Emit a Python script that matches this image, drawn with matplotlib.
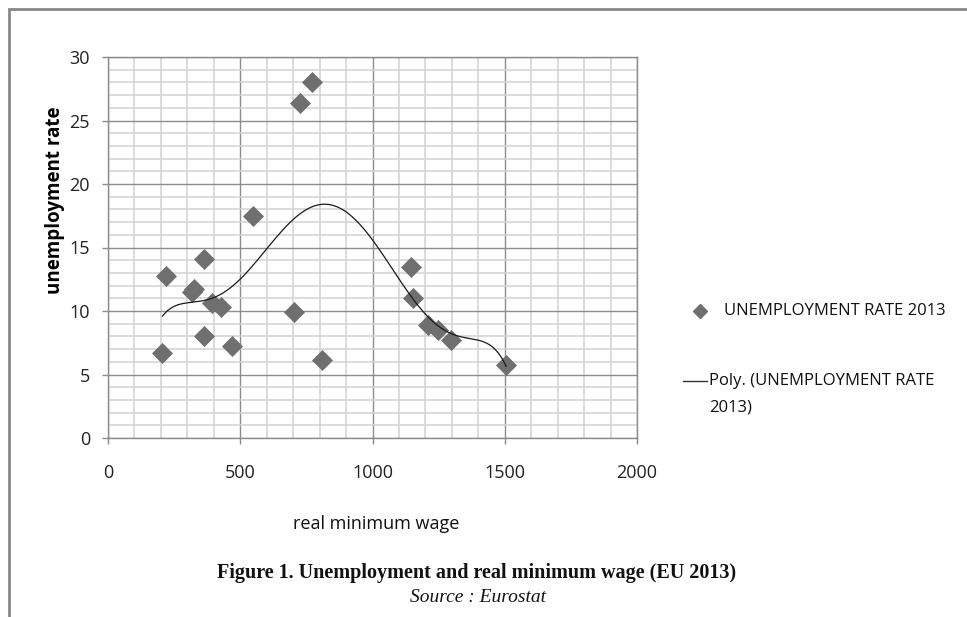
import numpy as np
import matplotlib.pyplot as plt
from matplotlib.lines import Line2D
from matplotlib.patches import Rectangle
from matplotlib.ticker import MultipleLocator

# real minimum wage (EUR) and unemployment rate (%) for EU countries, 2013
wage = [206, 219, 316, 327, 363, 363, 394, 428, 468, 549,
        705, 726, 770, 809, 1146, 1154, 1209, 1247, 1297, 1505]
rate = [6.7, 12.75, 11.5, 11.7, 14.1, 8.0, 10.65, 10.35, 7.25, 17.5,
        9.9, 26.35, 28.0, 6.15, 13.5, 11.05, 8.9, 8.5, 7.7, 5.75]

x_ticks = [0, 500, 1000, 1500, 2000]
y_ticks = [0, 5, 10, 15, 20, 25, 30]

major_col = '#8c8c8c'
minor_col = '#d2d2d2'
marker_col = '#6f6f6f'

plt.rcParams['font.family'] = ['Open Sans', 'DejaVu Sans']

W, H = 967, 617
fig = plt.figure(figsize=(W / 100, H / 100), dpi=100)
ax = fig.add_axes([108 / W, 1 - 438 / H, 529 / W, 381 / H])

ax.scatter(wage, rate, marker='D', s=115, color=marker_col, zorder=3,
           linewidths=0)

# polynomial trendline (6th order, like the spreadsheet trendline)
coef = np.polyfit(wage, rate, 6)
xs = np.linspace(min(wage), max(wage), 400)
ax.plot(xs, np.polyval(coef, xs), color='#1a1a1a', lw=0.9, zorder=4)

ax.set_xlim(0, 2000)
ax.set_ylim(0, 30)
ax.set_xticks(x_ticks)
ax.set_yticks(y_ticks)
ax.xaxis.set_minor_locator(MultipleLocator(100))
ax.yaxis.set_minor_locator(MultipleLocator(1))
ax.grid(which='minor', color=minor_col, lw=1.1, zorder=0)
ax.grid(which='major', color=major_col, lw=1.0, zorder=1)
ax.set_axisbelow(True)
for sp in ax.spines.values():
    sp.set_color(major_col)
    sp.set_linewidth(1.0)
ax.tick_params(which='major', direction='out', length=4, width=1,
               color=major_col, labelsize=13, labelcolor='#222222')
ax.tick_params(axis='x', pad=15)
ax.tick_params(axis='y', pad=9)
ax.tick_params(which='minor', length=0)

ax.set_ylabel('unemployment rate', fontsize=13.5, fontweight='bold')
ax.yaxis.set_label_coords((65 - 108) / 529, (438 - 200) / 381)
fig.text(376 / W, 1 - 524 / H, 'real minimum wage', fontsize=13,
         ha='center', va='center', color='#111111')

# legend, laid out like the spreadsheet legend
fig.add_artist(Line2D([700 / W], [1 - 311 / H], marker='D', ls='none',
                      color=marker_col, markersize=7,
                      transform=fig.transFigure))
fig.text(724 / W, 1 - 311 / H, 'UNEMPLOYMENT RATE 2013', fontsize=12,
         ha='left', va='center', color='#111111')
fig.add_artist(Line2D([683 / W, 707 / W], [1 - 381 / H, 1 - 381 / H],
                      color='#333333', lw=1, transform=fig.transFigure))
fig.text(709 / W, 1 - 381 / H, 'Poly. (UNEMPLOYMENT RATE', fontsize=12,
         ha='left', va='center', color='#111111')
fig.text(709 / W, 1 - 407 / H, '2013)', fontsize=12,
         ha='left', va='center', color='#111111')

fig.text(477 / W, 1 - 573 / H,
         'Figure 1. Unemployment and real minimum wage (EU 2013)',
         family='Liberation Serif', fontweight='bold', fontsize=14.5,
         ha='center', va='center', color='#111111')
fig.text(478 / W, 1 - 598 / H, 'Source : Eurostat',
         family='Liberation Serif', style='italic', fontsize=14,
         ha='center', va='center', color='#111111')

# outer frame of the picture
fig.patches.append(Rectangle((9 / W, -0.05), 1.05, 1 - 9 / H + 0.05,
                             transform=fig.transFigure, fill=False,
                             edgecolor='#888888', lw=2))

fig.savefig('out.png', dpi=100)
